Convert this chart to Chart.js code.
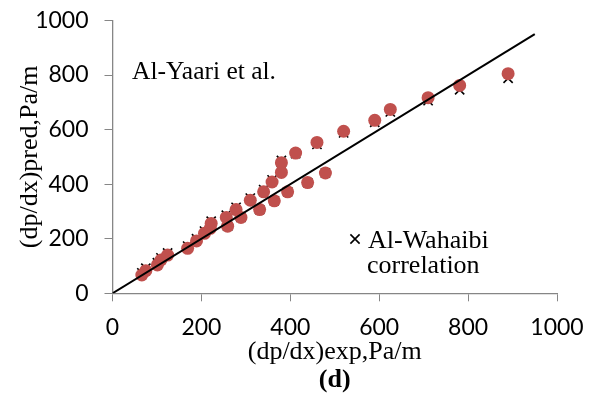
<!DOCTYPE html>
<html>
<head>
<meta charset="utf-8">
<script src="https://cdn.jsdelivr.net/npm/chart.js@4"></script>
<style>
  html, body { margin: 0; padding: 0; background: #fff; }
  #wrap { width: 593px; height: 401px; }
</style>
</head>
<body>
<div id="wrap"><canvas id="c" width="593" height="401"></canvas></div>
<script>
// Measured pressure gradients (Pa/m) and the two predictions for each run
const expValues   = [66, 75, 101, 109, 124, 169, 189, 207, 220, 222, 256, 259, 278, 289, 310, 331, 340, 364, 359, 380, 380, 394, 412, 439, 460, 479, 520, 590, 625, 710, 781, 890];
const yaariPred   = [67, 83, 104, 122, 140, 165, 192, 220, 238, 256, 278, 246, 307, 278, 341, 307, 372, 339, 408, 443, 479, 372, 514, 406, 553, 441, 594, 634, 674, 717, 762, 805];
const wahaibiPred = [75, 92, 112, 130, 148, 173, 200, 228, 246, 264, 286, 246, 315, 278, 349, 307, 380, 339, 416, 450, 487, 372, 512, 406, 546, 441, 588, 627, 665, 706, 746, 788];

// Ends of the y = x parity line
const parityX = [0, 950];
const parityY = [0, 950];

const axisMin = 0;
const axisMax = 1000;
const axisStep = 200;

const xTitle = '(dp/dx)exp,Pa/m';
const yTitle = '(dp/dx)pred,Pa/m';
const panelLabel = '(d)';
const yaariLabel = 'Al-Yaari et al.';
const wahaibiLabel = ['Al-Wahaibi', 'correlation'];

const toPoints = (xs, ys) => xs.map((x, i) => ({ x: x, y: ys[i] }));

const SERIF = '"Liberation Serif", "Times New Roman", serif';
const SANS = 'Lato, "Liberation Sans", sans-serif';
const AXIS_GREY = '#868686';

// Text labels inside the plot and the panel letter under the axis title
const annotations = {
  id: 'annotations',
  afterDraw(chart) {
    const ctx = chart.ctx;
    ctx.save();
    ctx.fillStyle = '#000';
    ctx.textBaseline = 'alphabetic';
    ctx.textAlign = 'left';

    ctx.font = '25.5px ' + SERIF;
    ctx.fillText(yaariLabel, 132, 79);

    ctx.font = '26px ' + SERIF;
    ctx.fillText(wahaibiLabel[0], 368, 248);
    ctx.fillText(wahaibiLabel[1], 367, 273);

    // legend marker for the correlation series
    const mx = 355, my = 239, h = 4.6;
    ctx.strokeStyle = '#000';
    ctx.lineWidth = 1.6;
    ctx.beginPath();
    ctx.moveTo(mx - h, my - h); ctx.lineTo(mx + h, my + h);
    ctx.moveTo(mx - h, my + h); ctx.lineTo(mx + h, my - h);
    ctx.stroke();

    ctx.font = 'bold 26px ' + SERIF;
    ctx.textAlign = 'center';
    const area = chart.chartArea;
    ctx.fillText(panelLabel, (area.left + area.right) / 2, 387);
    ctx.restore();
  }
};

const plainTick = (value) => String(value);

new Chart(document.getElementById('c'), {
  type: 'scatter',
  data: {
    datasets: [
      {
        label: 'parity',
        data: toPoints(parityX, parityY),
        showLine: true,
        borderColor: '#000',
        borderWidth: 2,
        pointRadius: 0,
        fill: false,
        order: 0
      },
      {
        label: yaariLabel,
        data: toPoints(expValues, yaariPred),
        pointStyle: 'circle',
        pointRadius: 6.5,
        backgroundColor: '#C0504D',
        borderWidth: 0,
        order: 1
      },
      {
        label: wahaibiLabel.join(' '),
        data: toPoints(expValues, wahaibiPred),
        pointStyle: 'crossRot',
        pointRadius: 6.5,
        borderColor: '#000',
        borderWidth: 1.6,
        order: 2
      }
    ]
  },
  options: {
    responsive: false,
    animation: false,
    events: [],
    layout: { padding: { top: 20.5, right: 36, bottom: 0, left: 0 } },
    plugins: {
      legend: { display: false },
      tooltip: { enabled: false }
    },
    scales: {
      x: {
        type: 'linear',
        min: axisMin,
        max: axisMax,
        afterFit(scale) {
          scale.height = 107.7;
          scale.paddingLeft = 0;
          scale.paddingRight = 0;
        },
        ticks: {
          stepSize: axisStep,
          color: '#000',
          padding: 12,
          maxRotation: 0,
          callback: plainTick,
          font: { family: SANS, size: 23 }
        },
        grid: { drawOnChartArea: false, drawTicks: true, tickLength: 8, color: AXIS_GREY, lineWidth: 1 },
        border: { color: AXIS_GREY, width: 1.3 },
        title: {
          display: true,
          text: xTitle,
          color: '#000',
          font: { family: SERIF, size: 26 },
          padding: { top: 0, bottom: 33 }
        }
      },
      y: {
        type: 'linear',
        min: axisMin,
        max: axisMax,
        afterFit(scale) {
          scale.width = 112.5;
          scale.paddingTop = 0;
          scale.paddingBottom = 0;
        },
        ticks: {
          stepSize: axisStep,
          color: '#000',
          padding: 16,
          callback: plainTick,
          font: { family: SANS, size: 23 }
        },
        grid: { drawOnChartArea: false, drawTicks: true, tickLength: 8, color: AXIS_GREY, lineWidth: 1 },
        border: { color: AXIS_GREY, width: 1.3 },
        title: {
          display: true,
          text: yTitle,
          color: '#000',
          font: { family: SERIF, size: 26 },
          padding: { top: 15, bottom: 0 }
        }
      }
    }
  },
  plugins: [annotations]
});
</script>
</body>
</html>
